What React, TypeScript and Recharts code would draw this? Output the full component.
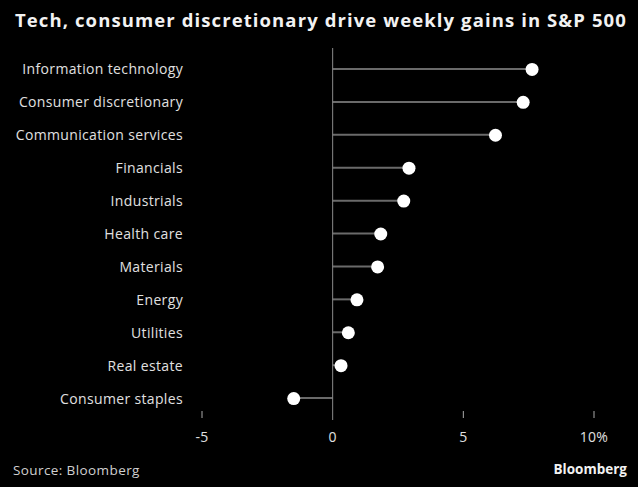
import { Bar, ComposedChart, Line, ReferenceLine, XAxis, YAxis } from "recharts";

const sectors = [
  "Information technology",
  "Consumer discretionary",
  "Communication services",
  "Financials",
  "Industrials",
  "Health care",
  "Materials",
  "Energy",
  "Utilities",
  "Real estate",
  "Consumer staples",
];
const weeklyGain = [7.63, 7.29, 6.23, 2.92, 2.72, 1.84, 1.72, 0.93, 0.6, 0.32, -1.49];
const xTicks = [-5, 0, 5, 10];
const xTickLabels = ["-5", "0", "5", "10%"];

const data = sectors.map((name, i) => ({ name, value: weeklyGain[i] }));

const font = "'Open Sans', sans-serif";
const textColor = "#e0e0e0";

function XTick(props: any) {
  const { x, y, payload } = props;
  const idx = xTicks.indexOf(payload.value);
  return (
    <g>
      {payload.value !== 0 && <line x1={x} x2={x} y1={y - 9} y2={y - 2} stroke="#aaa" strokeWidth={1} />}
      <text x={x} y={y + 22} textAnchor="middle" fill={textColor} fontSize={14} fontFamily={font} letterSpacing={0.3}>
        {xTickLabels[idx]}
      </text>
    </g>
  );
}

export default function App() {
  return (
    <div style={{ position: "fixed", left: 0, top: 0, width: 638, height: 487, background: "#000", overflow: "hidden" }}>
      <div
        style={{
          position: "absolute",
          left: 15,
          top: 7,
          color: "#f2f2f2",
          fontFamily: font,
          fontWeight: 700,
          fontSize: 18.5,
          letterSpacing: 1.1,
          whiteSpace: "nowrap",
        }}
      >
        Tech, consumer discretionary drive weekly gains in S&amp;P 500
      </div>
      <ComposedChart
        width={638}
        height={487}
        data={data}
        layout="vertical"
        margin={{ top: 48, right: 44, bottom: 37, left: 0 }}
      >
        <XAxis
          type="number"
          domain={[-5, 10]}
          ticks={xTicks}
          axisLine={false}
          tickLine={false}
          tickSize={0}
          tickMargin={0}
          height={30}
          tick={<XTick />}
          interval={0}
        />
        <YAxis
          type="category"
          dataKey="name"
          width={202}
          axisLine={false}
          tickLine={false}
          tickSize={0}
          tickMargin={19}
          padding={{ top: 5, bottom: 5 }}
          interval={0}
          tick={{ fill: textColor, fontSize: 14, fontFamily: font, letterSpacing: 0.35 }}
        />
        <ReferenceLine x={0} stroke="#8a8a8a" strokeWidth={1} />
        <Bar dataKey="value" barSize={2} fill="#6a6a6a" isAnimationActive={false} />
        <Line
          dataKey="value"
          stroke="none"
          dot={{ r: 6.5, fill: "#fff", stroke: "none" }}
          activeDot={false}
          isAnimationActive={false}
        />
      </ComposedChart>
      <div
        style={{
          position: "absolute",
          left: 13,
          top: 461,
          color: "#d0d0d0",
          fontFamily: font,
          fontSize: 13.5,
          letterSpacing: 0.4,
        }}
      >
        Source: Bloomberg
      </div>
      <div
        style={{
          position: "absolute",
          right: 11,
          top: 460,
          color: "#f2f2f2",
          fontFamily: font,
          fontWeight: 700,
          fontSize: 13.5,
        }}
      >
        Bloomberg
      </div>
    </div>
  );
}
